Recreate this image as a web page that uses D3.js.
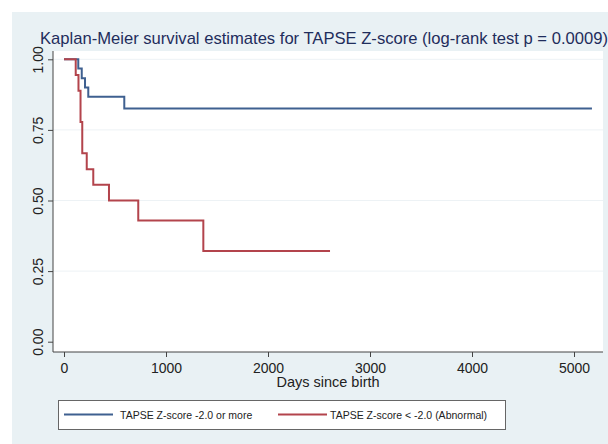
<!DOCTYPE html>
<html>
<head>
<meta charset="utf-8">
<script src="https://cdn.jsdelivr.net/npm/d3@7"></script>
<style>
  body { margin: 0; background: #fff; }
  svg { display: block; font-family: "Liberation Sans", Arial, Helvetica, sans-serif; }
  .axis text { fill: #222; font-size: 14px; }
  .axis line { stroke: #444; }
</style>
</head>
<body>
<div id="chart"></div>
<script>
// Kaplan-Meier step data
const normalDays = [0, 140, 174, 206, 238, 591, 5176];
const normalSurv = [1, 0.967, 0.933, 0.900, 0.867, 0.826, 0.826];
const abnormalDays = [0, 115, 142, 162, 179, 223, 287, 441, 728, 1366, 2608];
const abnormalSurv = [1, 0.944, 0.889, 0.778, 0.667, 0.611, 0.556, 0.500, 0.429, 0.321, 0.321];
const xTicks = [0, 1000, 2000, 3000, 4000, 5000];
const yTicks = [0, 0.25, 0.5, 0.75, 1];
const seriesNames = ["TAPSE Z-score -2.0 or more", "TAPSE Z-score < -2.0 (Abnormal)"];
const seriesColors = ["#3f6090", "#b3444c"];

const W = 608, H = 444;
// plot region frame
const frame = {left: 53, right: 603, top: 51, bottom: 352};

var x = d3.scaleLinear().domain([0, 5000]).range([64, 574]);
var y = d3.scaleLinear().domain([0, 1]).range([341.7, 59.3]);

var svg = d3.select("#chart")
    .append("svg")
        .attr("width", W)
        .attr("height", H);

// graph region background
svg.append("rect")
    .attr("x", 12).attr("y", 12)
    .attr("width", W - 12).attr("height", H - 12)
    .attr("fill", "#e9f1f4");

// plot region
svg.append("rect")
    .attr("x", frame.left).attr("y", frame.top)
    .attr("width", frame.right - frame.left)
    .attr("height", frame.bottom - frame.top)
    .attr("fill", "#fff");

// grid lines
svg.append("g")
    .selectAll("line")
    .data(yTicks.slice(1))
    .enter().append("line")
        .attr("x1", frame.left).attr("x2", frame.right)
        .attr("y1", function(d) { return y(d); })
        .attr("y2", function(d) { return y(d); })
        .attr("stroke", "#edf2f5")
        .attr("stroke-width", 1);

// title
svg.append("text")
    .attr("x", 40)
    .attr("y", 44)
    .attr("fill", "#1f2d5c")
    .style("font-size", "16.6px")
    .text("Kaplan-Meier survival estimates for TAPSE Z-score (log-rank test p = 0.0009)");

// Y axis
var yAxis = d3.axisLeft(y)
    .tickValues(yTicks)
    .tickFormat(d3.format(".2f"))
    .tickSizeInner(5)
    .tickSizeOuter(0);
var gy = svg.append("g")
    .attr("class", "axis")
    .attr("transform", "translate(" + frame.left + ",0)")
    .call(yAxis);
gy.select(".domain").remove();
gy.selectAll("text")
    .attr("transform", "rotate(-90)")
    .attr("x", 0)
    .attr("y", -10)
    .attr("dy", 0)
    .style("text-anchor", "middle");

// X axis
var xAxis = d3.axisBottom(x)
    .tickValues(xTicks)
    .tickFormat(d3.format("d"))
    .tickSizeInner(5)
    .tickSizeOuter(0)
    .tickPadding(6);
var gx = svg.append("g")
    .attr("class", "axis")
    .attr("transform", "translate(0," + frame.bottom + ")")
    .call(xAxis);
gx.select(".domain").remove();

// axis lines
svg.append("line")
    .attr("x1", frame.left).attr("x2", frame.left)
    .attr("y1", frame.top).attr("y2", frame.bottom)
    .attr("stroke", "#444");
svg.append("line")
    .attr("x1", frame.left).attr("x2", frame.right)
    .attr("y1", frame.bottom).attr("y2", frame.bottom)
    .attr("stroke", "#444");

svg.append("text")
    .attr("x", 328)
    .attr("y", 387)
    .attr("text-anchor", "middle")
    .attr("fill", "#222")
    .style("font-size", "14.5px")
    .text("Days since birth");

// survival curves
var step = d3.line()
    .curve(d3.curveStepAfter)
    .x(function(d) { return x(d[0]); })
    .y(function(d) { return y(d[1]); });

var curves = [d3.zip(normalDays, normalSurv), d3.zip(abnormalDays, abnormalSurv)];
svg.selectAll(".km")
    .data(curves)
    .enter().append("path")
        .attr("class", "km")
        .attr("fill", "none")
        .attr("stroke", function(d, i) { return seriesColors[i]; })
        .attr("stroke-width", 2)
        .attr("d", step);

// legend
svg.append("rect")
    .attr("x", 58.5).attr("y", 400.5)
    .attr("width", 447).attr("height", 29)
    .attr("fill", "#fff")
    .attr("stroke", "#666");
var legendX = [64, 278];
var legend = svg.selectAll(".legend")
    .data(seriesNames)
    .enter().append("g")
        .attr("class", "legend")
        .attr("transform", function(d, i) { return "translate(" + legendX[i] + ",414.5)"; });
legend.append("line")
    .attr("x1", 0).attr("x2", 49)
    .attr("stroke", function(d, i) { return seriesColors[i]; })
    .attr("stroke-width", 2);
legend.append("text")
    .attr("x", function(d, i) { return i === 0 ? 56 : 52; })
    .attr("y", 4)
    .attr("fill", "#222")
    .style("font-size", "10.5px")
    .text(function(d) { return d; });
</script>
</body>
</html>
